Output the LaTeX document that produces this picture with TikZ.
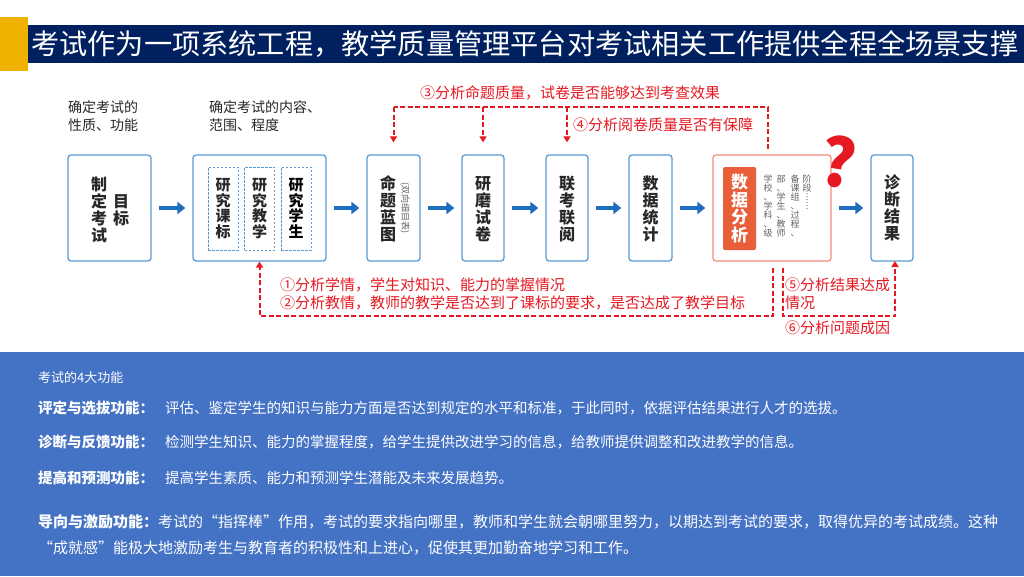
\documentclass[tikz,border=0pt]{standalone}
\usepackage{fontspec}
\setmainfont{Noto Sans CJK SC}
\usetikzlibrary{arrows.meta,calc}
\definecolor{navy}{RGB}{0,32,96}
\definecolor{yel}{RGB}{240,178,0}
\definecolor{boxblue}{RGB}{91,155,213}
\definecolor{arrowblue}{RGB}{31,110,190}
\definecolor{qred}{RGB}{230,25,35}
\definecolor{orline}{RGB}{240,140,120}
\definecolor{orfill}{RGB}{232,94,56}
\definecolor{panel}{RGB}{68,114,196}
\definecolor{txtdark}{RGB}{40,40,40}
\definecolor{txtgray}{RGB}{100,100,100}
\tikzset{
  bbox/.style={draw=boxblue, line width=1.3pt, rounded corners=3pt, fill=white, minimum height=106pt, inner sep=0pt},
  obox/.style={draw=orline, line width=1.3pt, rounded corners=3pt, fill=white, minimum height=106pt, inner sep=0pt},
  ibox/.style={draw=boxblue, line width=0.8pt, dash pattern=on 2.5pt off 1.5pt, minimum width=30pt, minimum height=83pt, inner sep=0pt, align=center, text=txtdark, font=\fontsize{15}{15.5}\selectfont\bfseries},
  vtext/.style={align=center, inner sep=0pt, text=txtdark, font=\fontsize{16}{17}\selectfont\bfseries},
  stext/.style={align=center, inner sep=0pt, anchor=north, text=txtgray, font=\fontsize{9}{9}\selectfont},
  barrow/.style={draw=arrowblue, line width=4.5pt, -{Triangle[length=8pt,width=12pt]}},
  rd/.style={draw=qred, line width=2pt, dash pattern=on 5pt off 2.5pt},
  rda/.style={rd, -{Triangle[length=6pt,width=7pt]}},
  rlab/.style={anchor=west, inner sep=0pt, text=qred, font=\fontsize{15}{18}\selectfont},
  blab/.style={anchor=west, inner sep=0pt, text=txtdark, font=\fontsize{14}{18}\selectfont},
  wlab/.style={anchor=west, inner sep=0pt, text=white, font=\fontsize{14.5}{18}\selectfont},
}
\begin{document}
\begin{tikzpicture}[x=1pt,y=-1pt]
\useasboundingbox (0,0) rectangle (1024,576);
\fill[white] (0,0) rectangle (1024,576);
% title
\fill[navy] (28,25) rectangle (1024,63);
\fill[yel] (0,17) rectangle (28,71);
\node[anchor=west, inner sep=0pt, text=white, font=\fontsize{28.2}{30}\selectfont] (title) at (31,44) {考试作为一项系统工程，教学质量管理平台对考试相关工作提供全程全场景支撑};
% top labels
\node[blab] (la1) at (68,107) {确定考试的};
\node[blab] (la2) at (68,125) {性质、功能};
\node[blab] (lb1) at (209,107) {确定考试的内容、};
\node[blab] (lb2) at (209,125) {范围、程度};
% boxes
\node[bbox, minimum width=83pt] (b1) at (109.5,208) {};
\node[bbox, minimum width=133pt] (b2) at (259.5,208) {};
\node[bbox, minimum width=53pt] (b3) at (393.5,208) {};
\node[bbox, minimum width=42pt] (b4) at (483,208) {};
\node[bbox, minimum width=42pt] (b5) at (567,208) {};
\node[bbox, minimum width=43pt] (b6) at (650.5,208) {};
\node[obox, minimum width=118pt] (b7) at (772,208) {};
\node[bbox, minimum width=42pt] (b8) at (892,208) {};
% box texts
\node[vtext] (t1a) at (99,210) {制\\定\\考\\试};
\node[vtext] (t1b) at (121,210) {目\\标};
\node[ibox] (s1) at (223,208.5) {研\\究\\课\\标};
\node[ibox] (s2) at (259.5,208.5) {研\\究\\教\\学};
\node[ibox, text=black] (s3) at (296,208.5) {研\\究\\学\\生};
\node[vtext] (t3) at (388,209) {命\\题\\蓝\\图};
\node[inner sep=0pt, rotate=-90, text=txtgray, font=\fontsize{9}{9}\selectfont] (t3b) at (405,208) {(双向细目表)};
\node[vtext] (t4) at (483,209) {研\\磨\\试\\卷};
\node[vtext] (t5) at (567,209) {联\\考\\联\\阅};
\node[vtext] (t6) at (650.5,209) {数\\据\\统\\计};
\node[fill=orfill, rounded corners=2pt, minimum width=33pt, minimum height=83pt, inner sep=0pt, align=center, text=white, font=\fontsize{17}{17.5}\selectfont\bfseries] (t7) at (739.5,208.5) {数\\据\\分\\析};
\node[stext] (c1) at (768,175) {学\\校\\、\\学\\科\\、\\级};
\node[stext] (c2) at (781,175) {部\\、\\学\\生\\、\\教\\师};
\node[stext] (c3) at (795,175) {备\\课\\组\\、\\过\\程\\、};
\node[stext] (c4) at (807,175) {阶\\段\\︙\\︙};
\node[vtext] (t8) at (892,208) {诊\\断\\结\\果};
% question mark
\node[inner sep=0pt, rotate=-8, text=qred, font=\fontsize{66}{66}\selectfont\bfseries] (qm) at (839,162) {?};
% blue arrows
\foreach \a/\b in {b1/b2,b2/b3,b3/b4,b4/b5,b5/b6,b6/b7,b7/b8}
  \draw[barrow] ([xshift=7pt]\a.east) -- ([xshift=-7pt]\b.west);
% top red dashed
\coordinate (q7) at (768,149);
\coordinate (qc) at (768,107);
\draw[rd] (q7) -- (qc) -- (b3.north |- qc);
\draw[rda] (b3.north |- qc) -- ([yshift=12pt]b3.north);
\draw[rda] (b4.north |- qc) -- ([yshift=12pt]b4.north);
\draw[rda] (b5.north |- qc) -- ([yshift=12pt]b5.north);
\node[rlab] (l3) at (420,93) {③分析命题质量，试卷是否能够达到考查效果};
\node[rlab] (l4) at (573,125) {④分析阅卷质量是否有保障};
% bottom red dashed
\coordinate (p7a) at (773,268);
\coordinate (pl) at (773,316);
\draw[rda] (p7a) -- (pl) -- (b2.south |- pl) -- (b2.south);
\coordinate (p7b) at (783,268);
\coordinate (pr) at (783,316);
\coordinate (p8) at (895,261);
\draw[rda] (p7b) -- (pr) -- (p8 |- pr) -- (p8);
\node[rlab] (l1) at (280,285) {①分析学情，学生对知识、能力的掌握情况};
\node[rlab] (l2) at (280,303) {②分析教情，教师的教学是否达到了课标的要求，是否达成了教学目标};
\node[rlab] (l5) at (785,285) {⑤分析结果达成};
\node[rlab] (l5b) at (785,303) {情况};
\node[rlab] (l6) at (785,328) {⑥分析问题成因};
% bottom panel
\fill[panel] (0,352) rectangle (1024,576);
\node[wlab, font=\fontsize{13}{16}\selectfont] (f0) at (38,378) {考试的4大功能};
\node[wlab, font=\fontsize{14.5}{18}\selectfont\bfseries] (f1a) at (38,408) {评定与选拔功能：};
\node[wlab] (f1b) at (165,408) {评估、鉴定学生的知识与能力方面是否达到规定的水平和标准，于此同时，依据评估结果进行人才的选拔。};
\node[wlab, font=\fontsize{14.5}{18}\selectfont\bfseries] (f2a) at (38,442) {诊断与反馈功能：};
\node[wlab] (f2b) at (165,442) {检测学生知识、能力的掌握程度，给学生提供改进学习的信息，给教师提供调整和改进教学的信息。};
\node[wlab, font=\fontsize{14.5}{18}\selectfont\bfseries] (f3a) at (38,478) {提高和预测功能：};
\node[wlab] (f3b) at (165,478) {提高学生素质、能力和预测学生潜能及未来发展趋势。};
\node[wlab, font=\fontsize{15}{18}\selectfont] (f4a) at (38,522) {\textbf{导向与激励功能：}考试的“指挥棒”作用，考试的要求指向哪里，教师和学生就会朝哪里努力，以期达到考试的要求，取得优异的考试成绩。这种};
\node[wlab, font=\fontsize{15}{18}\selectfont] (f4b) at (38,548) {“成就感”能极大地激励考生与教育者的积极性和上进心，促使其更加勤奋地学习和工作。};
\end{tikzpicture}
\end{document}
